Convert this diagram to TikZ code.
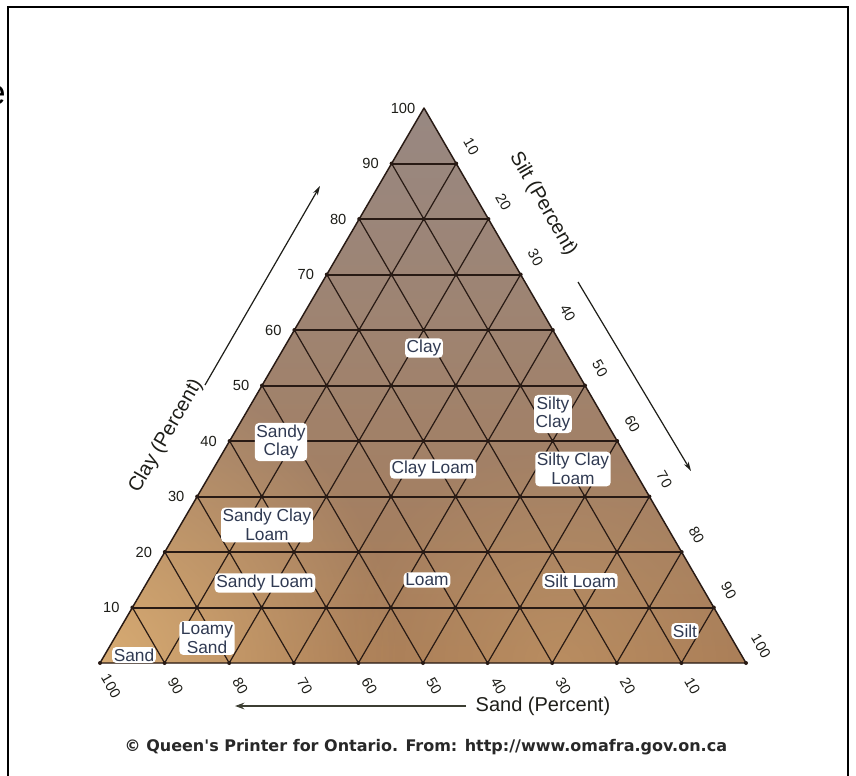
\documentclass[tikz,border=0pt]{standalone}
\usepackage{fontspec}
\setmainfont{Liberation Sans}
\newfontfamily\cfont{DejaVu Sans}
\usetikzlibrary{calc,fadings,arrows.meta}
\definecolor{gridc}{RGB}{40,26,20}
\definecolor{labc}{RGB}{48,58,82}
\definecolor{topc}{RGB}{152,136,130}
\definecolor{midc}{RGB}{118,86,66}
\definecolor{botc}{RGB}{168,124,86}
\definecolor{tanc}{RGB}{216,172,116}
\definecolor{numc}{RGB}{30,30,25}
\tikzfading[name=radfade, inner color=transparent!0, outer color=transparent!100]
\begin{document}
\begin{tikzpicture}[x=0.75pt,y=-0.75pt,
  hline/.style={draw=gridc, line width=1.5pt},
  dline/.style={draw=gridc, line width=0.9pt},
  region/.style={fill=white, rounded corners=3pt, inner sep=1.2pt, text=labc,
     font=\fontsize{13}{14}\selectfont, align=center},
  cnum/.style={font=\fontsize{11}{12}\selectfont, text=numc},
  rnum/.style={font=\fontsize{11}{12}\selectfont, text=numc, rotate=-60},
  axtitle/.style={font=\fontsize{15}{17}\selectfont, text=numc},
  axarrow/.style={draw=numc, line width=0.9pt, -{Stealth[length=7pt,width=4pt]}},
  sandarrow/.style={draw={rgb,255:red,60;green,62;blue,50}, line width=2pt, -{Stealth[length=7pt,width=5pt]}}]
\useasboundingbox (0,0) rectangle (856,775);
\fill[white] (0,0) rectangle (856,775);
% frame
\draw[line width=2pt] (8,780) -- (8,7) -- (848,7) -- (848,780);
\node[anchor=east, font=\fontsize{26}{28}\selectfont, inner sep=0pt] (frag) at (6,95) {e};
% triangle
\coordinate (T) at (424,108);
\coordinate (BL) at (100,663);
\coordinate (BR) at (746,663);
\begin{scope}
  \clip (T) -- (BL) -- (BR) -- cycle;
  \shade[top color=topc, middle color=midc, bottom color=botc] (100,108) rectangle (746,663);
  \fill[tanc, path fading=radfade] (100,663) circle (300);
  \fill[tanc, path fading=radfade, opacity=0.35] (560,663) circle (220);
\end{scope}
\foreach \k in {1,...,9} {
  \draw[hline] ($(BL)!{\k/10}!(T)$) -- ($(BR)!{\k/10}!(T)$);
  \draw[dline] ($(BL)!{\k/10}!(BR)$) -- ($(T)!{\k/10}!(BR)$);
  \draw[dline] ($(BR)!{\k/10}!(BL)$) -- ($(T)!{\k/10}!(BL)$);
}
\draw[draw=gridc, line width=1.1pt, line join=round] (T) -- (BL) -- (BR) -- cycle;
\foreach \i in {0,...,9} {
  \pgfmathtruncatemacro{\mm}{10-\i}
  \foreach \m in {0,...,\mm} {
    \fill[gridc] ({100+32.4*\i+64.6*\m},{663-55.5*\i}) circle (2);
  }
}
% clay numbers
\foreach \k in {1,...,10} {
  \node[cnum] (c\k) at ($(BL)!{\k/10}!(T)+(-21,0)$) {\the\numexpr\k*10\relax};
}
% silt numbers
\foreach \k in {1,...,10} {
  \node[rnum] (s\k) at ($(T)!{\k/10}!(BR)+(15,-17)$) {\the\numexpr\k*10\relax};
}
% sand numbers
\foreach \k in {1,...,10} {
  \node[rnum] (d\k) at ($(BR)!{\k/10}!(BL)+(11,23)$) {\the\numexpr\k*10\relax};
}
% axis titles
\node[axtitle, rotate=60] (claytitle) at (166,436) {Clay (Percent)};
\node[axtitle, rotate=-60] (silttitle) at (543,204) {Silt (Percent)};
\node[axtitle, anchor=west] (sandtitle) at (471,706) {Sand (Percent)};
% arrows
\coordinate (ca1) at (205,385);
\coordinate (ca2) at (320,186);
\draw[axarrow] (ca1) -- (ca2);
\coordinate (sa1) at (578,282);
\coordinate (sa2) at (691,471);
\draw[axarrow] (sa1) -- (sa2);
\coordinate (da1) at (466,706);
\coordinate (da2) at (235,706);
\draw[sandarrow] (da1) -- (da2);
% region labels
\node[region] (clay) at (424,348) {Clay};
\node[region] (sandyclay) at (281,442) {Sandy\\Clay};
\node[region] (clayloam) at (433,469) {Clay Loam};
\node[region] (siltyclay) at (553,414) {Silty\\Clay};
\node[region] (siltyclayloam) at (573,469) {Silty Clay\\Loam};
\node[region] (sandyclayloam) at (267,525) {Sandy Clay\\Loam};
\node[region] (sandyloam) at (265,583) {Sandy Loam};
\node[region] (loam) at (427,580) {Loam};
\node[region] (siltloam) at (580,581) {Silt Loam};
\node[region] (silt) at (685,631) {Silt};
\node[region] (loamysand) at (207,638) {Loamy\\Sand};
\node[region] (sand) at (134,655) {Sand};
% credit
\node[anchor=west, font=\cfont\bfseries\fontsize{12}{14}\selectfont, text={rgb,255:red,40;green,40;blue,40}] (credit) at (120,747)
  {© Queen's Printer for Ontario. From: http://www.omafra.gov.on.ca};
\end{tikzpicture}
\end{document}
